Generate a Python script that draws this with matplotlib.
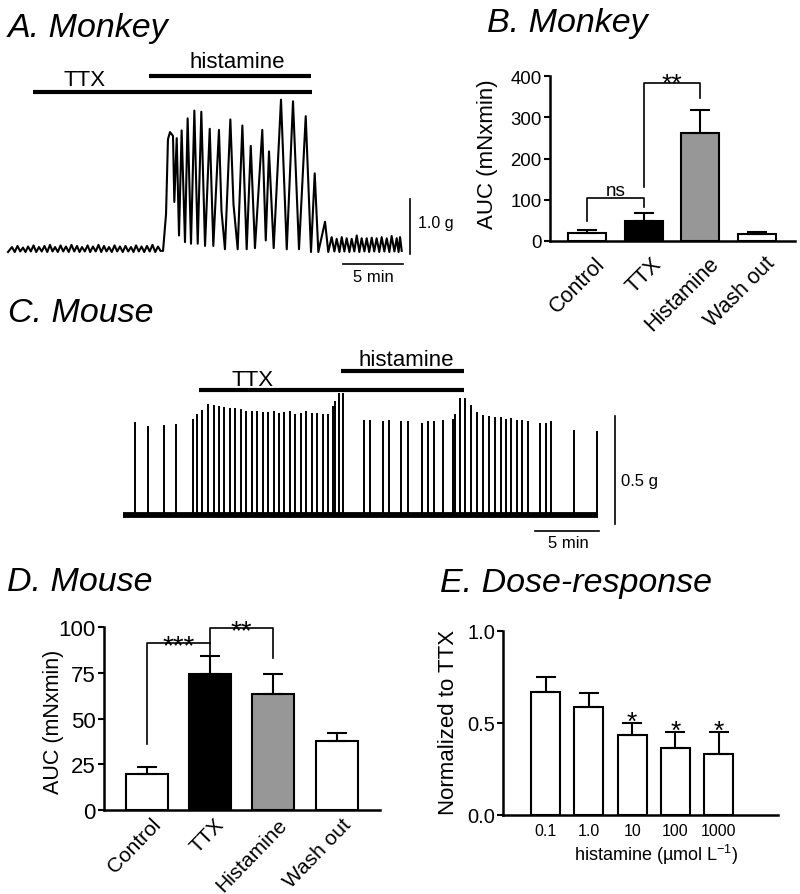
import matplotlib
matplotlib.use('Agg')
import matplotlib.pyplot as plt
from matplotlib.transforms import offset_copy

plt.rcParams['font.family'] = ['Liberation Sans', 'DejaVu Sans']
plt.rcParams['mathtext.fontset'] = 'custom'
plt.rcParams['mathtext.rm'] = 'Liberation Sans'
plt.rcParams['mathtext.it'] = 'Liberation Sans:italic'
plt.rcParams['mathtext.default'] = 'regular'

# ---------------- data ----------------
# A. Monkey trace keypoints (time in min, force in g)
pre_t = [0.00, 0.33, 0.56, 0.79, 1.02, 1.25, 1.46, 1.67, 1.90, 2.13, 2.35, 2.58, 2.81, 3.04, 3.27,
         3.50, 3.71, 3.92, 4.15, 4.38, 4.60, 4.83, 5.06, 5.29, 5.52, 5.75, 5.96, 6.17, 6.40, 6.63,
         6.85, 7.08, 7.31, 7.54, 7.77, 8.00, 8.21, 8.42, 8.65, 8.88, 9.10, 9.33, 9.56, 9.79, 10.02,
         10.25, 10.46, 10.67, 10.90, 11.13, 11.35, 11.58, 11.81, 12.04, 12.27, 12.50, 12.71]
pre_g = [0.00, 0.09, 0.00, 0.11, 0.01, 0.08, 0.00, 0.10, 0.01, 0.12, 0.00, 0.09, 0.01, 0.11, 0.00,
         0.13, 0.01, 0.09, 0.00, 0.12, 0.01, 0.10, 0.00, 0.13, 0.01, 0.11, 0.00, 0.09, 0.01, 0.12,
         0.00, 0.10, 0.01, 0.13, 0.00, 0.11, 0.01, 0.09, 0.00, 0.12, 0.01, 0.10, 0.00, 0.11, 0.01,
         0.09, 0.00, 0.12, 0.01, 0.10, 0.00, 0.11, 0.01, 0.13, 0.00, 0.10, 0.02]
hist_t = [12.92, 13.17, 13.33, 13.50, 13.75, 13.86, 14.06, 14.25, 14.47, 14.75, 14.97, 15.25, 15.53,
          15.81, 16.11, 16.42, 16.81, 17.11, 17.58, 17.79, 18.08, 18.53, 18.79, 19.14, 19.53, 19.89,
          20.23, 20.58, 21.19, 21.48, 21.75, 22.14, 22.75, 23.23, 23.75, 24.25, 24.81, 25.25, 25.56,
          25.86, 26.42, 26.69]
hist_g = [0.02, 0.69, 2.05, 2.18, 2.11, 0.91, 2.07, 0.30, 2.21, 0.18, 2.43, 0.15, 2.57,
          0.15, 2.55, 0.11, 2.24, 0.11, 2.22, 0.75, 0.05, 2.41, 0.87, 0.05, 2.30, 0.05,
          1.93, 0.07, 2.22, 0.21, 1.83, 0.07, 2.77, 0.05, 2.74, 0.05, 2.47, 0.00, 1.43,
          0.00, 0.55, 0.00]
post_t = [26.97, 27.20, 27.39, 27.62, 27.81, 28.03, 28.22, 28.45, 28.64, 28.86, 29.06, 29.28, 29.47,
          29.70, 29.89, 30.10, 30.31, 30.52, 30.72, 30.94, 31.14, 31.36, 31.56, 31.78, 31.97, 32.20,
          32.39, 32.55, 32.67, 32.81]
post_g = [0.27, 0.01, 0.24, 0.00, 0.27, 0.01, 0.25, 0.00, 0.24, 0.01, 0.30, 0.00, 0.25,
          0.01, 0.25, 0.00, 0.26, 0.01, 0.25, 0.00, 0.27, 0.01, 0.25, 0.00, 0.29, 0.01,
          0.25, 0.00, 0.27, 0.02]
monkey_ttx = (2.08, 25.33)
monkey_hist = (11.75, 25.25)

# C. Mouse trace: spike times (min) and peak amplitudes (g)
mouse_spike_t = [0.89, 1.92, 3.14, 4.10, 5.40, 5.71, 6.12, 6.59, 7.03, 7.44, 7.85, 8.30, 8.71,
                 9.13, 9.56, 9.98, 10.40, 10.84, 11.25, 11.70, 12.11, 12.52, 12.96, 13.37, 13.79,
                 14.23, 14.67, 15.09, 15.53, 15.94, 16.33, 16.46, 16.75, 17.11, 18.72, 19.21,
                 20.19, 20.66, 21.62, 22.14, 23.20, 23.67, 24.18, 24.86, 25.64, 25.79, 26.16,
                 26.57, 27.04, 27.53, 27.99, 28.44, 28.88, 29.35, 29.76, 30.17, 30.59, 31.00,
                 31.49, 32.40, 32.85, 33.26, 35.02, 36.81]
mouse_spike_g = [0.430, 0.413, 0.418, 0.421, 0.446, 0.470, 0.489, 0.514, 0.511, 0.505, 0.500,
                 0.498, 0.495, 0.493, 0.484, 0.484, 0.483, 0.478, 0.478, 0.483, 0.474, 0.480,
                 0.483, 0.470, 0.474, 0.483, 0.474, 0.474, 0.470, 0.470, 0.507, 0.531, 0.566,
                 0.566, 0.442, 0.442, 0.435, 0.440, 0.435, 0.435, 0.427, 0.436, 0.435, 0.441,
                 0.446, 0.469, 0.543, 0.543, 0.511, 0.480, 0.464, 0.460, 0.455, 0.455, 0.446,
                 0.450, 0.441, 0.441, 0.435, 0.427, 0.427, 0.436, 0.396, 0.391]
mouse_duration = 36.94
mouse_ttx = (5.85, 26.46)
mouse_hist = (16.96, 26.46)

# B. Monkey AUC
b_categories = ['Control', 'TTX', 'Histamine', 'Wash out']
b_means = [19.4, 47.7, 262.0, 17.0]
b_sem = [6.5, 20.2, 54.8, 4.8]

# D. Mouse AUC
d_categories = ['Control', 'TTX', 'Histamine', 'Wash out']
d_means = [19.6, 74.2, 63.4, 37.7]
d_sem = [3.6, 10.3, 10.8, 4.5]

bar_colors = ['white', 'black', '#979797', 'white']

# E. Dose-response
e_conc = ['0.1', '1.0', '10', '100', '1000']
e_means = [0.665, 0.585, 0.435, 0.360, 0.330]
e_sem = [0.081, 0.076, 0.065, 0.091, 0.121]
e_sig = ['', '', '*', '*', '*']

# ---------------- figure ----------------
W, H = 800, 895
fig = plt.figure(figsize=(W / 100, H / 100), dpi=100)


def px_axes(l, t, r, b):
    return fig.add_axes([l / W, 1 - b / H, (r - l) / W, (b - t) / H])


def ftext(x, y, s, **kw):
    fig.text(x / W, 1 - y / H, s, **kw)


TITLE = dict(fontsize=24.5, style='italic', va='baseline', ha='left')
ftext(8, 37, 'A. Monkey', **TITLE)
ftext(487, 32, 'B. Monkey', **TITLE)
ftext(8, 322, 'C. Mouse', **TITLE)
ftext(7, 591, 'D. Mouse', **TITLE)
ftext(440, 592, 'E. Dose-response', **TITLE)

# ---- A: monkey trace ----
axA = px_axes(0, 50, 460, 290)
axA.set_xlim(-8 / 12, 452 / 12)
axA.set_ylim(-37 / 55, 203 / 55)
axA.axis('off')
axA.plot(pre_t + hist_t + post_t, pre_g + hist_g + post_g, color='black', lw=1.5,
         solid_joinstyle='round')
axA.plot(monkey_ttx, [2.91, 2.91], color='black', lw=3, solid_capstyle='butt')
axA.plot(monkey_hist, [3.20, 3.20], color='black', lw=3, solid_capstyle='butt')
axA.text(6.42, 3.04, 'TTX', ha='center', va='baseline', fontsize=16)
axA.text(19.08, 3.36, 'histamine', ha='center', va='baseline', fontsize=16)
axA.plot([33.5, 33.5], [-0.04, 0.96], color='black', lw=1.2)
axA.text(34.17, 0.53, '1.0 g', ha='left', va='center', fontsize=11.5)
axA.plot([27.92, 32.92], [-0.22, -0.22], color='black', lw=1.2)
axA.text(30.42, -0.527, '5 min', ha='center', va='baseline', fontsize=12)

# ---- C: mouse trace ----
axC = px_axes(110, 340, 660, 560)
axC.set_xlim(-13.3 / 12.86, 536.7 / 12.86)
axC.set_ylim(-44 / 215.4, 176 / 215.4)
axC.axis('off')
axC.plot([0, mouse_duration], [0, 0], color='black', lw=4.2, solid_capstyle='butt')
axC.vlines(mouse_spike_t, 0, mouse_spike_g, color='black', lw=1.4)
axC.plot(mouse_ttx, [0.58, 0.58], color='black', lw=3, solid_capstyle='butt')
axC.plot(mouse_hist, [0.67, 0.67], color='black', lw=3, solid_capstyle='butt')
axC.text(10.09, 0.604, 'TTX', ha='center', va='baseline', fontsize=16)
axC.text(22.0, 0.696, 'histamine', ha='center', va='baseline', fontsize=16)
axC.plot([38.21, 38.21], [-0.042, 0.458], color='black', lw=1.2)
axC.text(38.68, 0.16, '0.5 g', ha='left', va='center', fontsize=12)
axC.plot([32.01, 37.01], [-0.073, -0.073], color='black', lw=1.2)
axC.text(34.6, -0.149, '5 min', ha='center', va='baseline', fontsize=12)


def bar_panel(ax, means, sems, colors, width, ylim, yticks, yticklabels, labelsize):
    x = list(range(len(means)))
    ax.bar(x, means, width=width, color=colors, edgecolor='black', linewidth=1.5, zorder=2)
    ax.errorbar(x, means, yerr=[[0] * len(means), sems], fmt='none', ecolor='black',
                elinewidth=1.5, capsize=7, capthick=1.5, zorder=3)
    ax.set_ylim(*ylim)
    ax.set_yticks(yticks)
    ax.set_yticklabels(yticklabels)
    for s in ['top', 'right']:
        ax.spines[s].set_visible(False)
    for s in ['left', 'bottom']:
        ax.spines[s].set_linewidth(1.8)
    ax.tick_params(axis='y', length=4, width=1.5, labelsize=labelsize, pad=2)
    return x


def rotated_labels(ax, labels, fontsize, dx, dy, rot):
    tr = offset_copy(ax.get_xaxis_transform(), fig=fig, x=dx, y=-dy, units='dots')
    for i, lab in enumerate(labels):
        ax.text(i, 0, lab, transform=tr, rotation=rot, ha='right', va='center',
                rotation_mode='anchor', fontsize=fontsize)


def bracket(ax, x0, x1, top, y0, y1, lw=1.2):
    ax.plot([x0, x0, x1, x1], [y0, top, top, y1], color='black', lw=lw, zorder=4)


# ---- B ----
axB = px_axes(550, 77, 795, 242)
axB.set_xlim(-0.653, 3.67)
bar_panel(axB, b_means, b_sem, bar_colors, 0.67, (0, 400), [0, 100, 200, 300, 400],
          ['0', '100', '200', '300', '400'], 13.4)
axB.set_xticks([])
rotated_labels(axB, b_categories, 15.5, 15, 19, 45)
bracket(axB, 0, 1, 105, 47.7, 82.4)
axB.text(0.5, 111, 'ns', ha='center', va='baseline', fontsize=13.6)
bracket(axB, 1, 2, 383, 131, 346.7)
axB.text(1.5, 383, '**', ha='center', va='baseline', fontsize=19,
         transform=offset_copy(axB.transData, fig=fig, x=0, y=-8, units='dots'))
ftext(488, 154, 'AUC (mNxmin)', rotation=90, ha='center', va='center', fontsize=16)

# ---- D ----
axD = px_axes(104, 628.3, 380, 810.7)
axD.set_xlim(-0.674, 3.685)
bar_panel(axD, d_means, d_sem, bar_colors, 0.663, (0, 100), [0, 25, 50, 75, 100],
          ['0', '25', '50', '75', '100'], 16)
axD.set_xticks([])
rotated_labels(axD, d_categories, 15, 11, 11, 46)
bracket(axD, 0, 1, 91.2, 36, 84.5)
bracket(axD, 1, 2, 99.6, 91.2, 83)
axD.text(0.5, 91.2, '***', ha='center', va='baseline', fontsize=20,
         transform=offset_copy(axD.transData, fig=fig, x=0, y=-10, units='dots'))
axD.text(1.5, 99.6, '**', ha='center', va='baseline', fontsize=20,
         transform=offset_copy(axD.transData, fig=fig, x=0, y=-10, units='dots'))
ftext(53, 721.7, 'AUC (mNxmin)', rotation=90, ha='center', va='center', fontsize=15.5)

# ---- E ----
axE = px_axes(503.3, 631.7, 777.7, 815.7)
axE.set_xlim(-0.975, 5.36)
ex = bar_panel(axE, e_means, e_sem, ['white'] * len(e_means), 0.67, (0, 1.0), [0, 0.5, 1.0],
               ['0.0', '0.5', '1.0'], 14.5)
axE.set_xticks(ex)
axE.set_xticklabels(e_conc)
axE.tick_params(axis='x', length=0, labelsize=11.5, pad=6)
star_tr = offset_copy(axE.transData, fig=fig, x=0, y=-6, units='dots')
for i, s in enumerate(e_sig):
    if s:
        axE.text(i, e_means[i] + e_sem[i], s, ha='center', va='baseline', fontsize=19,
                 transform=star_tr)
ftext(449, 722.5, 'Normalized to TTX', rotation=90, ha='center', va='center', fontsize=16)
ftext(656, 855, r'histamine (µmol L$^{-1}$)', ha='center', va='center', fontsize=13)

fig.savefig('out.png', dpi=100)
